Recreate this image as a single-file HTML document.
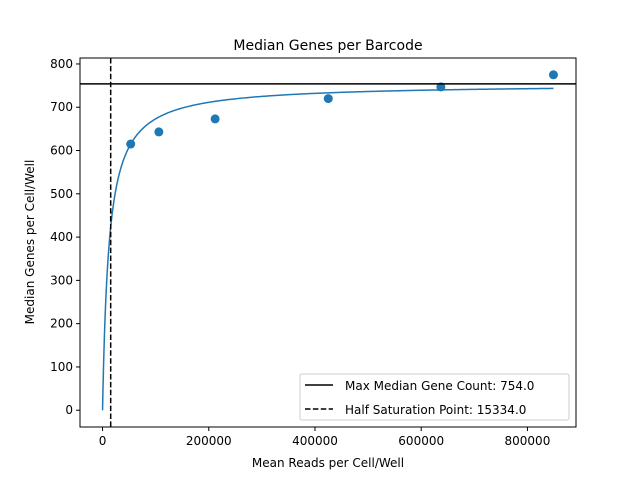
<!DOCTYPE html>
<html><head><meta charset="utf-8"><style>
body{margin:0;background:#fff}
svg{font-family:"DejaVu Sans","Liberation Sans",sans-serif}
</style></head><body>
<svg id="c" width="640" height="480">
<rect width="640" height="480" fill="#fff"/>
<text x="328" y="50" text-anchor="middle" font-size="14">Median Genes per Barcode</text>
<g id="plot"></g>
<rect x="80" y="58" width="496" height="369" fill="none" stroke="#000" stroke-width="1"/>
<text x="328" y="467" text-anchor="middle" font-size="12">Mean Reads per Cell/Well</text>
<text transform="translate(34,242) rotate(-90)" text-anchor="middle" font-size="12">Median Genes per Cell/Well</text>
<g>
<rect x="300" y="374" width="269" height="46" rx="2" fill="#fff" stroke="#ccc"/>
<line x1="305" y1="385" x2="333" y2="385" stroke="#000" stroke-width="1.5"/>
<text x="345" y="390" font-size="12">Max Median Gene Count: 754.0</text>
<line x1="305" y1="409" x2="333" y2="409" stroke="#000" stroke-width="1.5" stroke-dasharray="5.5,2.4"/>
<text x="345" y="414" font-size="12">Half Saturation Point: 15334.0</text>
</g>
</svg>
<script>
const xs=[53000,106000,212000,425000,637000,849000];
const ys=[615,643,673,720,747,775];
const xTicks=[0,200000,400000,600000,800000];
const yTicks=[0,100,200,300,400,500,600,700,800];
const maxCount=[754];
const halfSat=[15334];
const curveK=[12000];
const NS="http://www.w3.org/2000/svg";
const L=80,R=576,T=58,B=427;
const xmin=-42450,xmax=891450,ymin=-38.75,ymax=813.75;
function X(v){return L+(v-xmin)/(xmax-xmin)*(R-L);}
function Y(v){return B-(v-ymin)/(ymax-ymin)*(B-T);}
const g=document.getElementById('plot');
function el(t,a){const e=document.createElementNS(NS,t);for(const k in a)e.setAttribute(k,a[k]);g.appendChild(e);return e;}
xTicks.forEach(v=>{
 const l=el('line',{x1:X(v),x2:X(v),y1:B,y2:B+4,stroke:'#000'});
 
 
 const t=el('text',{x:X(v),y:B+18,'text-anchor':'middle','font-size':12});t.textContent=v;
 
 
});
yTicks.forEach(v=>{
 const l=el('line',{x1:L-4,x2:L,y1:Y(v),y2:Y(v),stroke:'#000'});
 
 
 const t=el('text',{x:L-7,y:Y(v)+4,'text-anchor':'end','font-size':12});t.textContent=v;
 
 
});
let d='';
const xend=xs[xs.length-1];
for(let i=0;i<=400;i++){const x=xend*Math.pow(i/400,2);const y=maxCount[0]*x/(x+curveK[0]);d+=(i?'L':'M')+X(x).toFixed(2)+','+Y(y).toFixed(2);}
const c=el('path',{d:d,fill:'none',stroke:'#1f77b4','stroke-width':1.5});


xs.forEach((x,i)=>{
 const p=el('circle',{cx:X(x),cy:Y(ys[i]),r:4.5,fill:'#1f77b4'});
 
 
});
const h=el('line',{x1:L,x2:R,y1:Y(maxCount[0]),y2:Y(maxCount[0]),stroke:'#000','stroke-width':1.5});


const v=el('line',{x1:X(halfSat[0]),x2:X(halfSat[0]),y1:T,y2:B,stroke:'#000','stroke-width':1.5,'stroke-dasharray':'5.5,2.4'});


</script>
</body></html>
